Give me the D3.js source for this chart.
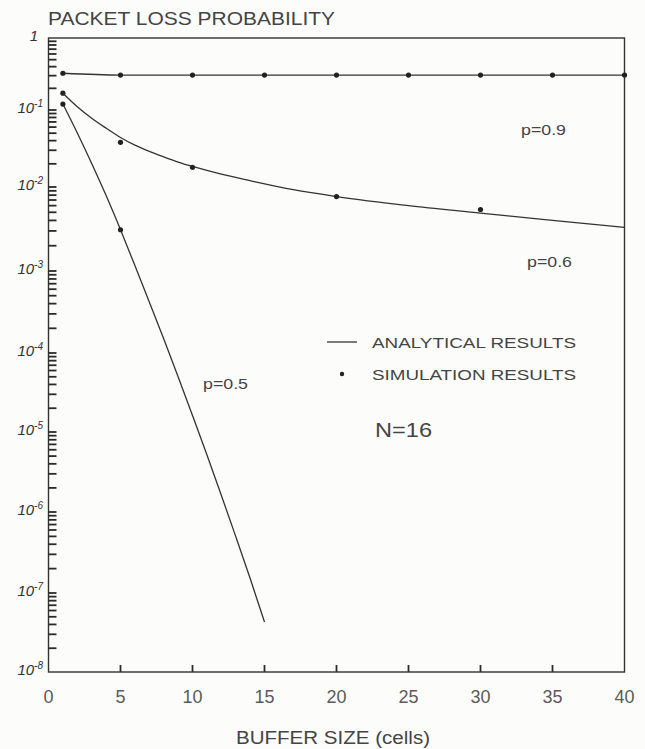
<!DOCTYPE html>
<html><head><meta charset="utf-8">
<script src="https://cdn.jsdelivr.net/npm/d3@7"></script>
<style>body{margin:0;background:#fcfcfb;} svg{display:block}</style>
</head><body><svg id="c" width="645" height="749"></svg>
<script>
// ---- data ----
const bufferTicks = [0, 5, 10, 15, 20, 25, 30, 35, 40];
const decades = [1, 1e-1, 1e-2, 1e-3, 1e-4, 1e-5, 1e-6, 1e-7, 1e-8];
const decadeExp = ["", "-1", "-2", "-3", "-4", "-5", "-6", "-7", "-8"];

const p09Buffer = [1, 5, 10, 15, 20, 25, 30, 35, 40];
const p09Analytic = [0.324, 0.306, 0.306, 0.306, 0.306, 0.306, 0.306, 0.306, 0.306];
const p09SimBuffer = [1, 5, 10, 15, 20, 25, 30, 35, 40];
const p09Sim = [0.324, 0.306, 0.306, 0.306, 0.306, 0.306, 0.306, 0.306, 0.306];

const p06Buffer = [1, 2, 3, 4, 5, 6, 7, 8, 9, 10, 12, 14, 17, 20, 25, 30, 35, 40];
const p06Analytic = [0.171, 0.111, 0.078, 0.058, 0.044, 0.035, 0.029, 0.0246, 0.0211, 0.0185, 0.0147, 0.0121, 0.0093, 0.0077, 0.0060, 0.0049, 0.0040, 0.0033];
const p06SimBuffer = [1, 5, 10, 20, 30];
const p06Sim = [0.171, 0.038, 0.018, 0.0077, 0.0054];

const p05Buffer = [1, 2, 3, 4, 5, 6, 7, 8, 9, 10, 11, 12, 13, 14, 15];
const p05Analytic = [0.121, 0.0503, 0.0202, 0.0079, 0.0031, 0.00116, 4.2e-4, 1.49e-4, 5.0e-5, 1.62e-5, 5.2e-6, 1.62e-6, 5.0e-7, 1.52e-7, 4.3e-8];
const p05SimBuffer = [1, 5];
const p05Sim = [0.121, 0.0031];

const seriesLabels = ["p=0.9", "p=0.6", "p=0.5"];
const legendLabels = ["ANALYTICAL RESULTS", "SIMULATION RESULTS"];
const titleText = "PACKET LOSS PROBABILITY";
const xTitleText = "BUFFER SIZE (cells)";
const noteText = "N=16";

// ---- drawing ----
const ink = "#333";
const textInk = "#444";
const font = "'Liberation Sans', Arial, sans-serif";
const svg = d3.select("#c");

const x = d3.scaleLinear().domain([0, 40]).range([48.5, 624.5]);
// hand-drawn log axis: decade spacing is slightly uneven in the original
const y = d3.scaleLog().domain(decades).range([38, 110, 187, 271, 353, 432, 512, 593, 672]);

// frame
svg.append("rect").attr("x", x(0)).attr("y", y(1)).attr("width", x(40) - x(0)).attr("height", y(1e-8) - y(1))
  .attr("fill", "none").attr("stroke", ink).attr("stroke-width", 1.4);

// y ticks (inside)
const yTicks = [];
decades.forEach((d, i) => { if (i > 0) for (let m = 2; m <= 9; m++) yTicks.push(d * m); if (i > 0 && i < 8) yTicks.push(d); });
const tickG = svg.append("g").attr("stroke", "#2a2a2a").attr("stroke-width", 1.8);
tickG.selectAll("line.yt").data(yTicks).join("line").attr("class", "yt")
  .attr("x1", x(0)).attr("x2", x(0) + 8).attr("y1", d => y(d)).attr("y2", d => y(d));

// x ticks (inside)
tickG.selectAll("line.xt").data(bufferTicks.slice(1, -1)).join("line").attr("class", "xt")
  .attr("x1", d => x(d)).attr("x2", d => x(d)).attr("y1", y(1e-8)).attr("y2", y(1e-8) - 7);

// y labels
const yl = svg.append("g").attr("font-family", font).attr("fill", ink).attr("font-style", "italic");
decades.forEach((d, i) => {
  const t = yl.append("text").attr("text-anchor", "end").attr("x", i === 0 ? 38 : 43).attr("y", y(d) + 3)
    .attr("font-size", 15);
  if (i === 0) { t.text("1"); }
  else {
    t.append("tspan").text("10");
    t.append("tspan").attr("font-size", 10).attr("dy", -6).text(decadeExp[i]);
  }
});

// x labels
svg.append("g").selectAll("text").data(bufferTicks).join("text")
  .attr("x", d => x(d)).attr("y", y(1e-8) + 31).attr("text-anchor", "middle")
  .attr("font-family", font).attr("font-size", 18).attr("fill", "#5a5a5a").text(d => d);

// titles
svg.append("text").attr("x", 48).attr("y", 25).attr("font-family", font).attr("font-size", 19)
  .attr("fill", textInk).attr("textLength", 287).attr("lengthAdjust", "spacingAndGlyphs").text(titleText);
svg.append("text").attr("x", 236).attr("y", 744).attr("font-family", font).attr("font-size", 18)
  .attr("fill", textInk).attr("textLength", 194).attr("lengthAdjust", "spacingAndGlyphs").text(xTitleText);

// lines
const line = d3.line().x(d => x(d[0])).y(d => y(d[1])).curve(d3.curveMonotoneX);
const series = [
  {b: p09Buffer, v: p09Analytic, sb: p09SimBuffer, sv: p09Sim},
  {b: p06Buffer, v: p06Analytic, sb: p06SimBuffer, sv: p06Sim},
  {b: p05Buffer, v: p05Analytic, sb: p05SimBuffer, sv: p05Sim}
];
series.forEach(s => {
  svg.append("path").datum(s.b.map((b, i) => [b, s.v[i]])).attr("d", line)
    .attr("fill", "none").attr("stroke", ink).attr("stroke-width", 1.3);
  svg.append("g").selectAll("circle").data(s.sb.map((b, i) => [b, s.sv[i]])).join("circle")
    .attr("cx", d => x(d[0])).attr("cy", d => y(d[1])).attr("r", 2.6).attr("fill", "#222");
});

// series labels
const labPos = [[521, 135], [527, 267], [203, 389]];
seriesLabels.forEach((t, i) => {
  svg.append("text").attr("x", labPos[i][0]).attr("y", labPos[i][1]).attr("font-family", font)
    .attr("font-size", 15).attr("fill", textInk).attr("textLength", 45).attr("lengthAdjust", "spacingAndGlyphs").text(t);
});

// legend
svg.append("line").attr("x1", 327).attr("x2", 357).attr("y1", 342).attr("y2", 342).attr("stroke", ink).attr("stroke-width", 1.3);
svg.append("circle").attr("cx", 342).attr("cy", 374).attr("r", 2.2).attr("fill", "#222");
legendLabels.forEach((t, i) => {
  svg.append("text").attr("x", 372).attr("y", 348 + i * 32).attr("font-family", font).attr("font-size", 14)
    .attr("fill", textInk).attr("textLength", 204).attr("lengthAdjust", "spacingAndGlyphs").text(t);
});
svg.append("text").attr("x", 375).attr("y", 437).attr("font-family", font).attr("font-size", 20)
  .attr("fill", textInk).attr("textLength", 57).attr("lengthAdjust", "spacingAndGlyphs").text(noteText);
</script></body></html>
